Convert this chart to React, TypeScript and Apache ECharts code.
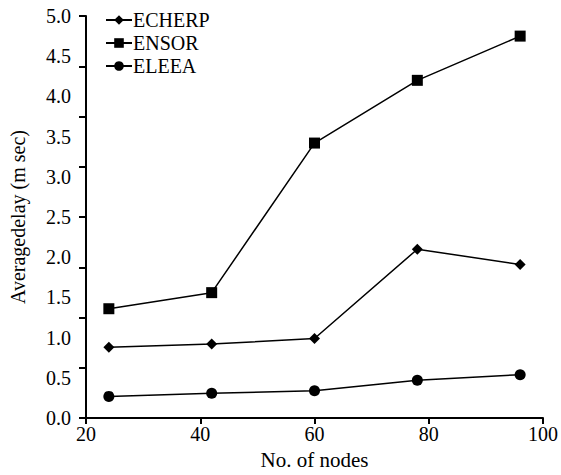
import React, { useEffect, useRef } from "react";
import * as echarts from "echarts";

const nodes = [24, 42, 60, 78, 96];
const echerp = [0.88, 0.92, 0.99, 2.1, 1.91];
const ensor = [1.36, 1.56, 3.42, 4.2, 4.75];
const eleea = [0.27, 0.31, 0.34, 0.47, 0.54];
const seriesNames = ["ECHERP", "ENSOR", "ELEEA"];

const FONT = "Liberation Serif";

export default function App() {
  const ref = useRef<HTMLDivElement>(null);
  useEffect(() => {
    if (!ref.current) return;
    const chart = echarts.init(ref.current, undefined, { renderer: "svg" });
    const mk = (vals: number[]) => nodes.map((x, i) => [x, vals[i]]);
    const common = {
      type: "line" as const,
      lineStyle: { color: "#000", width: 1.5 },
      itemStyle: { color: "#000" },
      showSymbol: true,
    };
    chart.setOption({
      animation: false,
      textStyle: { fontFamily: FONT },
      grid: { left: 86, right: 13, top: 16, bottom: 51, containLabel: false },
      legend: {
        orient: "vertical",
        left: 100,
        top: 5,
        itemGap: 3,
        itemWidth: 26,
        itemHeight: 12,
        data: seriesNames,
        textStyle: { fontFamily: FONT, fontSize: 20, color: "#000", padding: [0, 0, 0, -4] },
      },
      xAxis: {
        type: "value",
        min: 20,
        max: 100,
        interval: 20,
        name: "No. of nodes",
        nameLocation: "middle",
        nameGap: 27,
        nameTextStyle: { fontFamily: FONT, fontSize: 21, color: "#000" },
        axisLine: { lineStyle: { color: "#000", width: 2 } },
        axisTick: { inside: false, length: 6, lineStyle: { color: "#000", width: 2 } },
        axisLabel: { fontFamily: FONT, fontSize: 20, color: "#000", margin: 6 },
        splitLine: { show: false },
      },
      yAxis: [
        {
          type: "value",
          min: 0,
          max: 5,
          interval: 0.5,
          name: "Averagedelay (m sec)",
          nameLocation: "middle",
          nameGap: 58,
          nameTextStyle: { fontFamily: FONT, fontSize: 20, color: "#000" },
          axisLine: { show: true, lineStyle: { color: "#000", width: 2 } },
          axisTick: { show: false },
          axisLabel: {
            fontFamily: FONT,
            fontSize: 20,
            color: "#000",
            margin: 15,
            formatter: (v: number) => v.toFixed(1),
          },
          splitLine: { show: false },
        },
        {
          type: "value",
          position: "left",
          min: 0,
          max: 8,
          interval: 1,
          axisLine: { show: false },
          axisTick: { show: true, length: 7, lineStyle: { color: "#000", width: 2 } },
          axisLabel: { show: false },
          splitLine: { show: false },
        },
      ],
      series: [
        { ...common, name: "ECHERP", data: mk(echerp), symbol: "diamond", symbolSize: 11 },
        { ...common, name: "ENSOR", data: mk(ensor), symbol: "rect", symbolSize: 11 },
        { ...common, name: "ELEEA", data: mk(eleea), symbol: "circle", symbolSize: 11 },
      ],
    });
    return () => chart.dispose();
  }, []);
  return (
    <div
      ref={ref}
      style={{ position: "absolute", left: 0, top: 0, width: 561, height: 475 }}
    />
  );
}
